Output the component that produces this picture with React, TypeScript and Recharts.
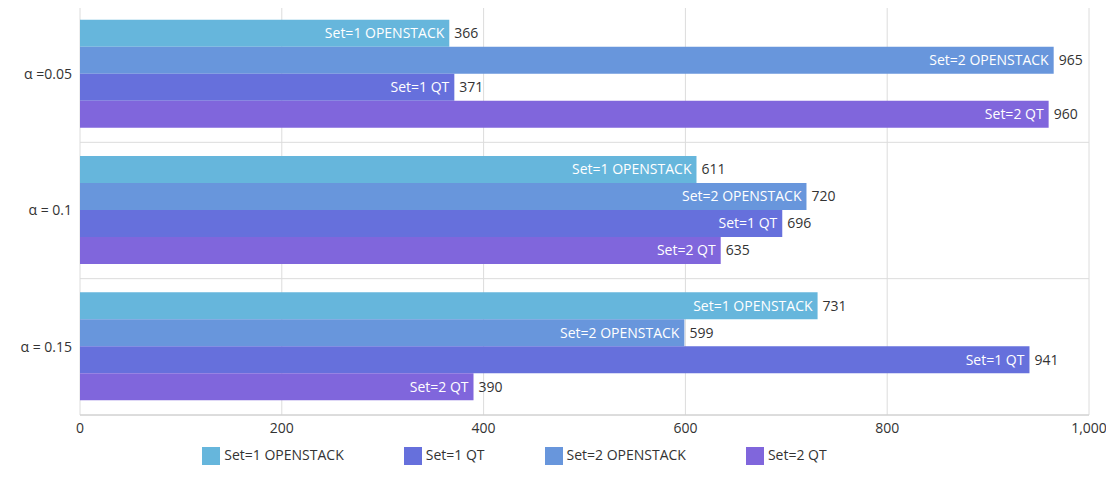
import React from 'react';
import { Bar, BarChart, CartesianGrid, LabelList, Legend, XAxis, YAxis } from 'recharts';

// --- data ---
const categories = ['α =0.05', 'α = 0.1', 'α = 0.15'];
const seriesNames = ['Set=1 OPENSTACK', 'Set=2 OPENSTACK', 'Set=1 QT', 'Set=2 QT'];
const set1Openstack = [366, 611, 731];
const set2Openstack = [965, 720, 599];
const set1Qt = [371, 696, 941];
const set2Qt = [960, 635, 390];
const xTicks = [0, 200, 400, 600, 800, 1000];

const COLORS = ['#66b6dc', '#6896dc', '#6670dc', '#8066dc'];
const seriesValues = [set1Openstack, set2Openstack, set1Qt, set2Qt];

const data = categories.map((c, i) => {
  const row: { [key: string]: any } = { category: c };
  seriesNames.forEach((s, j) => { row[s] = seriesValues[j][i]; });
  return row;
});

const font = '"Open Sans", "Noto Sans", sans-serif';

const App: React.FC = () => (
  <div style={{ margin: -8, fontFamily: font }}>
    <BarChart
      width={1114}
      height={481}
      data={data}
      layout="vertical"
      margin={{ top: 6, right: 25, left: 0, bottom: 0 }}
      barCategoryGap="10%"
      barGap={0}
    >
      <CartesianGrid
        stroke="#dcdcdc"
        horizontalCoordinatesGenerator={({ offset }: any) =>
          categories.map((_, i) => offset.top + (offset.height * i) / categories.length).concat([offset.top + offset.height])
        }
      />
      <XAxis
        type="number"
        domain={[0, 1000]}
        ticks={xTicks}
        tickFormatter={(v: number) => v.toLocaleString('en-US')}
        tick={{ fill: '#333', fontSize: 14 }}
        tickLine={false}
        stroke="#ccc"
        height={26}
      />
      <YAxis
        type="category"
        dataKey="category"
        width={80}
        tick={{ fill: '#333', fontSize: 14 }}
        tickLine={false}
        axisLine={false}
      />
      <Legend
        verticalAlign="bottom"
        iconType="square"
        iconSize={18}
        wrapperStyle={{ fontSize: 14, color: '#333', height: 36, paddingTop: 4 }}
        formatter={(v: string) => <span style={{ color: '#333', marginRight: 50 }}>{v}</span>}
      />
      {seriesNames.map((s, j) => (
        <Bar key={s} dataKey={s} fill={COLORS[j]} isAnimationActive={false}>
          <LabelList
            dataKey={s}
            position="insideRight"
            formatter={() => s}
            fill="#fff"
            fontSize={14}
          />
          <LabelList dataKey={s} position="right" fill="#333" fontSize={14} />
        </Bar>
      ))}
    </BarChart>
  </div>
);

export default App;
